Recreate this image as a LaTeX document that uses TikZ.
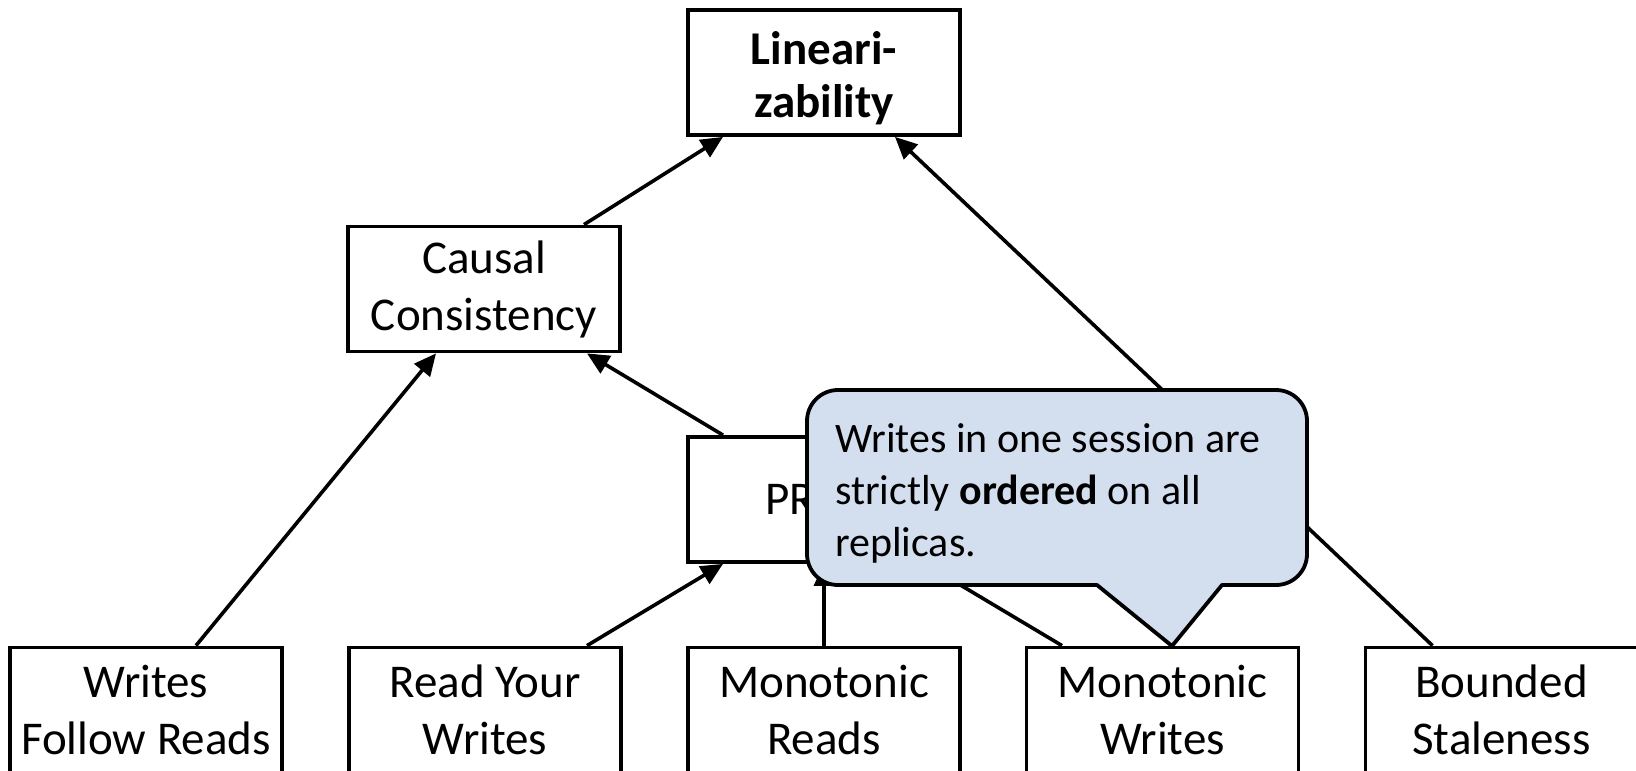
\documentclass[tikz,border=0pt]{standalone}
\usepackage{fontspec}
\setmainfont{Carlito}
\usetikzlibrary{arrows.meta,calc}
\definecolor{calloutfill}{HTML}{D3DEEF}
\begin{document}
\begin{tikzpicture}[x=1pt,y=-1pt,
  box/.style={draw,line width=3.8pt,minimum width=272pt,minimum height=125pt,
    inner sep=0pt,align=center,fill=white,font=\fontsize{47}{57}\selectfont},
  link/.style={line width=3.6pt,-{Triangle[length=22pt,width=20pt]}},
  bubble/.style={draw,line width=3.8pt,fill=calloutfill,line join=round},
  bubbletext/.style={anchor=base west,align=left,inner sep=0pt,font=\fontsize{42}{52}\selectfont}]
\clip (0,0) rectangle (1636,771);
\fill[white] (0,0) rectangle (1636,771);

% consistency models
\node[box,font=\fontsize{47}{53}\selectfont\bfseries] (lin) at (824,72.5) {\rule{0pt}{44pt}Lineari-\\zability};
\node[box] (caus) at (484,289) {Causal\\Consistency};
\node[box] (pram) at (824,499.5) {PRAM};
\node[box] (wfr) at (146,710) {Writes\\Follow Reads};
\node[box] (ryw) at (485,710) {Read Your\\Writes};
\node[box] (mr) at (824,710) {Monotonic\\Reads};
\node[box] (mw) at (1162.5,710) {Monotonic\\Writes};
\node[box] (bs) at (1501.5,710) {Bounded\\Staleness};

% implications
\draw[link] ([xshift=100pt]caus.north) -- ([xshift=-101pt]lin.south);
\draw[link] ([xshift=-69pt]bs.north) -- ([xshift=71pt]lin.south);
\draw[link] ([xshift=50pt]wfr.north) -- ([xshift=-48pt]caus.south);
\draw[link] ([xshift=-101pt]pram.north) -- ([xshift=103pt]caus.south);
\draw[link] ([xshift=102pt]ryw.north) -- ([xshift=-101pt]pram.south);
\draw[link] (mr.north) -- (pram.south);
\draw[link] ([xshift=-100.5pt]mw.north) -- ([xshift=101pt]pram.south);

% callout for Monotonic Writes
\draw[bubble] (1057,390) [rounded corners=31pt] -- (807,390) -- (807,585) -- (1000,585)
  [sharp corners] -- (1097,585) -- (1172,646) -- (1222,585) -- (1260,585)
  [rounded corners=31pt] -- (1307,585) -- (1307,390) -- cycle;
\node[bubbletext] (note) at (835,556) {Writes in one session are\\strictly \textbf{ordered} on all\\replicas.};
\end{tikzpicture}
\end{document}
